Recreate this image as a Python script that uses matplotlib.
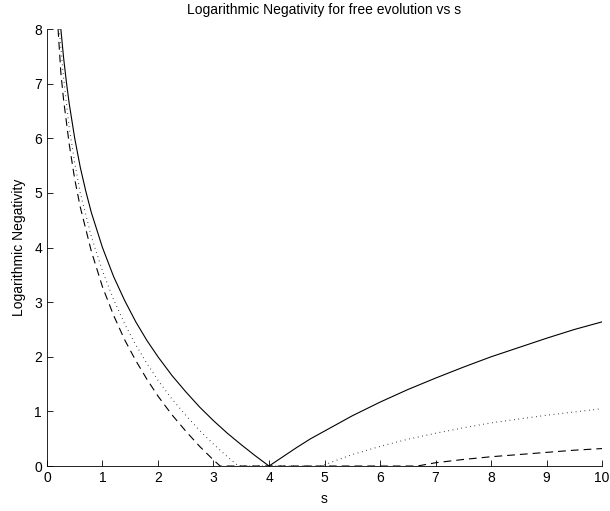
import matplotlib
matplotlib.use("Agg")
import matplotlib.pyplot as plt

plt.rcParams['font.family'] = ['Liberation Sans', 'DejaVu Sans']

# values
s_solid = [0.25, 0.3, 0.35, 0.4, 0.5, 0.6, 0.7, 0.8, 1.0, 1.2, 1.4, 1.6, 1.8,
           2.0, 2.25, 2.5, 2.75, 3.0, 3.25, 3.5, 3.75, 4.0,
           4.25, 4.5, 4.75, 5.0, 5.5, 6.0, 6.5, 7.0, 7.5, 8.0, 8.5, 9.0, 9.5, 10.0]
ln_solid = [8.0, 7.47, 7.03, 6.64, 6.0, 5.47, 5.03, 4.64, 4.0, 3.47, 3.03, 2.64, 2.3,
            2.0, 1.66, 1.36, 1.08, 0.83, 0.6, 0.39, 0.19, 0.0,
            0.17, 0.34, 0.5, 0.64, 0.92, 1.17, 1.4, 1.61, 1.81, 2.0, 2.17, 2.34, 2.5, 2.64]

s_dot = [0.22, 0.3, 0.4, 0.5, 0.6, 0.8, 1.0, 1.2, 1.4, 1.6, 1.8, 2.0, 2.25,
         2.5, 2.75, 3.0, 3.25, 3.45,
         4.95, 5.2, 5.5, 6.0, 6.5, 7.0, 7.5, 8.0, 8.5, 9.0, 9.5, 10.0]
ln_dot = [8.0, 7.1, 6.2, 5.55, 5.0, 4.2, 3.57, 3.05, 2.6, 2.22, 1.88, 1.57, 1.23,
          0.93, 0.65, 0.4, 0.17, 0.0,
          0.0, 0.1, 0.21, 0.36, 0.49, 0.6, 0.7, 0.79, 0.86, 0.93, 0.99, 1.05]

s_dash = [0.2, 0.25, 0.3, 0.4, 0.5, 0.6, 0.8, 1.0, 1.2, 1.4, 1.6, 1.8, 2.0,
          2.25, 2.5, 2.75, 3.0, 3.12,
          6.67, 7.0, 7.5, 8.0, 8.5, 9.0, 9.5, 10.0]
ln_dash = [8.0, 7.2, 6.7, 5.9, 5.25, 4.74, 3.93, 3.28, 2.76, 2.31, 1.93, 1.59, 1.28,
           0.94, 0.64, 0.36, 0.11, 0.0,
           0.0, 0.06, 0.12, 0.17, 0.21, 0.25, 0.29, 0.32]

fig = plt.figure(figsize=(6.1, 5.11), dpi=100)
ax = fig.add_axes([0.077, 0.088, 0.91, 0.855])

ax.plot(s_solid, ln_solid, color='k', lw=0.8)
ax.plot(s_dot, ln_dot, color='k', lw=0.8, linestyle=(0, (0.6, 3.4)))
ax.plot(s_dash, ln_dash, color='k', lw=0.8, linestyle=(0, (7, 4.5)))

ax.set_xlim(0, 10)
ax.set_ylim(0, 8)
ax.set_xticks(range(0, 11))
ax.set_yticks(range(0, 9))
ax.spines['top'].set_visible(False)
ax.spines['right'].set_visible(False)
ax.tick_params(direction='in', length=4, width=0.6, labelsize=10)
for sp in ax.spines.values():
    sp.set_linewidth(0.6)

ax.set_xlabel('s', fontsize=10, labelpad=5)
ax.set_ylabel('Logarithmic Negativity', fontsize=10, labelpad=6)
ax.set_title('Logarithmic Negativity for free evolution vs s', fontsize=10, pad=11)

fig.savefig('out.png', dpi=100)
